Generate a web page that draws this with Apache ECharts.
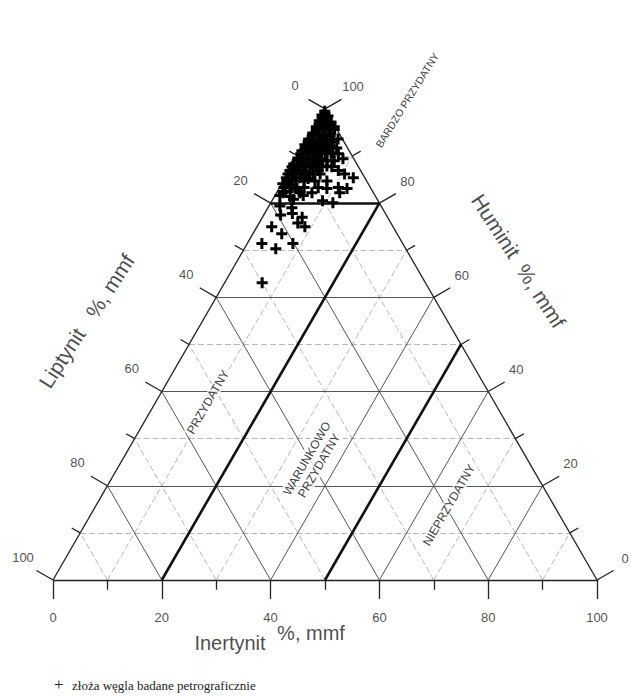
<!DOCTYPE html>
<html><head><meta charset="utf-8">
<script src="https://cdn.jsdelivr.net/npm/echarts@6/dist/echarts.min.js"></script>
<style>html,body{margin:0;padding:0;background:#fff;}#c{width:631px;height:698px;}</style>
</head><body><div id="c"></div>
<script>
// ---- data (percent, mmf) ----
const tickValues = [0,10,20,30,40,50,60,70,80,90,100];
const tickLabels = ['0','20','40','60','80','100'];
const huminit   = [99.5,99.0,98.7,98.5,97.5,97.5,97.2,96.2,96.2,95.9,96.2,94.9,94.9,94.7,94.9,93.6,93.6,93.4,93.6,93.6,92.4,92.2,92.4,92.4,92.2,91.1,90.9,91.1,90.9,91.1,90.7,89.6,89.8,89.6,89.8,89.4,89.4,88.3,88.1,88.3,88.1,88.3,87.9,86.9,86.7,86.9,86.4,86.9,86.9,85.4,85.2,85.4,85.2,84.7,85.4,84.1,83.9,83.1,82.2,83.1,83.1,81.6,81.4,81.6,80.5,80.1,79.4,79.0,77.5,77.8,77.0,75.8,75.0,75.0,73.5,71.4,70.3,71.4,63.1,82.5,82.5,80.8,
  98.1,98.1, 96.8,96.8,96.8, 95.6,95.6,95.6,95.6, 94.3,94.3,94.3,94.3, 93.0,93.0,93.0,93.0,93.0, 91.7,91.7,91.7,91.7,91.7,91.7,
  90.5,90.5,90.5,90.5,90.5,90.5,90.5, 89.0,89.0,89.0,89.0,89.0,89.0,89.0, 87.7,87.7,87.7,87.7,87.7,87.7,87.7,
  86.2,86.2,86.2,86.2,86.2,86.2,86.2, 84.7,84.7,84.7,84.7, 83.3,83.3,83.3,83.3,83.3, 82.2,82.2,82.2];
const inertynit = [0.2,0.5,0.1,1.3,0.2,1.3,2.5,0.3,1.4,2.6,3.6,0.3,1.4,2.6,3.6,0.2,1.3,2.5,3.5,5.6,0.1,1.3,2.3,3.4,4.8,0.2,1.4,2.4,3.6,4.6,6.1,0.2,1.2,2.4,3.4,4.7,8.6,0.1,1.3,2.3,3.7,4.7,6.4,0.1,1.3,2.5,4.0,5.3,9.0,0.2,1.3,2.7,4.3,8.0,12.5,0.2,1.6,3.3,6.5,8.8,12.5,0.9,2.9,5.2,9.3,11.4,2.0,4.4,3.1,5.1,7.3,7.1,8.8,2.7,5.3,2.7,5.8,8.4,6.9,1.5,4.0,3.8,
  0.4,1.3, 0.5,1.6,2.7, 0.6,1.7,2.8,3.9, 0.5,1.6,2.7,3.8, 0.4,1.5,2.6,3.7,5.0, 0.5,1.6,2.7,3.8,5.1,6.3,
  0.3,1.5,2.6,3.7,4.8,5.9,7.2, 0.4,1.5,2.6,3.7,4.8,5.9,7.2, 0.1,1.2,2.3,3.4,4.5,5.6,7.4,
  0.1,1.2,2.3,3.4,4.7,6.0,10.5, 0.8,2.3,3.8,5.8, 0.8,2.3,4.5,7.1,10.8, 1.2,4.3,11.6];
const liptynit  = [0.3,0.5,1.2,0.2,2.3,1.2,0.3,3.5,2.4,1.5,0.2,4.8,3.7,2.7,1.5,6.2,5.1,4.1,2.9,0.8,7.5,6.5,5.3,4.2,3.0,8.7,7.7,6.5,5.5,4.3,3.2,10.2,9.0,8.0,6.8,5.9,2.0,11.6,10.6,9.4,8.2,7.0,5.7,13.0,12.0,10.6,9.6,7.8,4.1,14.4,13.5,11.9,10.5,7.3,2.1,15.7,14.5,13.6,11.3,8.1,4.4,17.5,15.7,13.2,10.2,8.5,18.6,16.6,19.4,17.1,15.7,17.1,16.2,22.3,21.2,25.9,23.9,20.2,30.0,16.0,13.5,15.4,
  1.5,0.6, 2.7,1.6,0.5, 3.8,2.7,1.6,0.5, 5.2,4.1,3.0,1.9, 6.6,5.5,4.4,3.3,2.0, 7.8,6.7,5.6,4.5,3.2,2.0,
  9.2,8.0,6.9,5.8,4.7,3.6,2.3, 10.6,9.5,8.4,7.3,6.2,5.1,3.8, 12.2,11.1,10.0,8.9,7.8,6.7,4.9,
  13.7,12.6,11.5,10.4,9.1,7.8,3.3, 14.5,13.0,11.5,9.5, 15.9,14.4,12.2,9.6,5.9, 16.6,13.5,6.2];
// class boundaries
const boundaryHuminit = 80;
const boundaryInertynit = [20, 50];
const regionNames = ['BARDZO PRZYDATNY','PRZYDATNY','WARUNKOWO\nPRZYDATNY','NIEPRZYDATNY'];
const axisNames = {bottom:'Inertynit', left:'Liptynit', right:'Huminit', unit:'%, mmf'};
const legendText = 'złoża węgla badane petrograficznie';

// ---- ternary -> cartesian (Huminit top, Inertynit bottom-right, Liptynit bottom-left) ----
const S3 = Math.sqrt(3)/2;
function tern(h, i){ return [i + h/2, h*S3]; }

const PX = 5.44; // px per unit
const chart = echarts.init(document.getElementById('c'), null, {renderer:'svg'});

const minorGrid = [], majorGrid = [];
for (let k = 10; k < 100; k += 10){
  const segs = [
    [tern(k,0), tern(k,100-k)],
    [tern(0,k), tern(100-k,k)],
    [tern(0,100-k), tern(100-k,0)]
  ];
  segs.forEach(s => (k % 20 === 0 ? majorGrid : minorGrid).push({coords:s}));
}
const outline = [[tern(0,0),tern(0,100)],[tern(0,100),tern(100,0)],[tern(100,0),tern(0,0)]].map(c=>({coords:c}));
const thick = [
  {coords:[tern(boundaryHuminit,0), tern(boundaryHuminit,100-boundaryHuminit)]},
  ...boundaryInertynit.map(v=>({coords:[tern(0,v), tern(100-v,v)]}))
];
const dirB=[0,-1], dirL=[-S3,0.5], dirR=[S3,0.5];
const tickSegs = [];
function addTick(p, d, v){
  const len = (v % 20 === 0) ? 3.5 : 1.8;
  tickSegs.push({coords:[p,[p[0]+d[0]*len, p[1]+d[1]*len]]});
}
tickValues.forEach(v=>{
  addTick(tern(0,v), dirB, v);
  addTick(tern(100-v,0), dirL, v);
  addTick(tern(v,100-v), dirR, v);
});
const labelData = [];
tickLabels.forEach(t=>{
  const v = +t;
  let p = tern(0,v); labelData.push({value:[p[0], p[1]-37/PX], label:{formatter:t}});
  p = tern(100-v,0); labelData.push({value:[p[0]-30/PX, p[1]+23/PX], label:{formatter:t}});
  p = tern(v,100-v); labelData.push({value:[p[0]+28/PX, p[1]+22/PX], label:{formatter:t}});
});
function pxToData(x,y){ return [(x-53)/PX, (580-y)/PX]; }
const regionLabel = {backgroundColor:'#fff', padding:[0,2], color:'#000'};
const textItems = [
  {value:pxToData(230,643), label:{formatter:axisNames.bottom, fontSize:20, rotate:0}},
  {value:pxToData(311,633), label:{formatter:axisNames.unit, fontSize:20, rotate:0}},
  {value:pxToData(62,358), label:{formatter:axisNames.left, fontSize:21, rotate:57}},
  {value:pxToData(110,286), label:{formatter:axisNames.unit, fontSize:21, rotate:57}},
  {value:pxToData(496,226), label:{formatter:axisNames.right, fontSize:21, rotate:-57}},
  {value:pxToData(541,296), label:{formatter:axisNames.unit, fontSize:21, rotate:-57}},
  {value:pxToData(407,100), label:{formatter:regionNames[0], fontSize:10.5, rotate:58, color:'#000'}},
  {value:pxToData(208,402), label:Object.assign({formatter:regionNames[1], fontSize:12, rotate:60}, regionLabel)},
  {value:pxToData(313,462), label:Object.assign({formatter:regionNames[2], fontSize:12, rotate:60, lineHeight:14}, regionLabel)},
  {value:pxToData(449,505), label:Object.assign({formatter:regionNames[3], fontSize:12, rotate:60}, regionLabel)}
];
const points = huminit.map((h,idx)=>tern(h, inertynit[idx]));

const plus = 'path://M4,0H7V4H11V7H7V11H4V7H0V4H4Z';
const base = {silent:true, animation:false};
chart.setOption({
  animation:false,
  backgroundColor:'#fff',
  grid:{left:53-9*PX, width:115*PX, top:580-94*PX, height:110*PX},
  xAxis:{type:'value', min:-9, max:106, show:false},
  yAxis:{type:'value', min:-16, max:94, show:false},
  series:[
    Object.assign({type:'lines', coordinateSystem:'cartesian2d', data:minorGrid, z:1,
      lineStyle:{color:'#b0b0b0', width:0.9, type:[6,3], opacity:1}}, base),
    Object.assign({type:'lines', coordinateSystem:'cartesian2d', data:majorGrid, z:2,
      lineStyle:{color:'#555', width:1, opacity:1}}, base),
    Object.assign({type:'scatter', data:textItems, z:3, symbolSize:1, itemStyle:{color:'rgba(0,0,0,0)'},
      label:{show:true, position:'inside', color:'#1a1a1a', fontFamily:'Liberation Sans', align:'center', verticalAlign:'middle'}}, base),
    Object.assign({type:'lines', coordinateSystem:'cartesian2d', data:outline.concat(tickSegs), z:4,
      lineStyle:{color:'#222', width:1.3, opacity:1}}, base),
    Object.assign({type:'lines', coordinateSystem:'cartesian2d', data:thick, z:5,
      lineStyle:{color:'#111', width:2.6, opacity:1}}, base),
    Object.assign({type:'scatter', data:points, z:6, symbol:plus, symbolSize:11,
      itemStyle:{color:'#000', opacity:1}}, base),
    Object.assign({type:'scatter', data:labelData, z:7, symbolSize:1, itemStyle:{color:'rgba(0,0,0,0)'},
      label:{show:true, position:'inside', color:'#222', fontSize:13, fontFamily:'Liberation Sans'}}, base)
  ],
  graphic:[
    {type:'text', left:54, top:676, style:{text:'+', font:'17px "Liberation Serif"', fill:'#222'}},
    {type:'text', left:72, top:679, style:{text:legendText, font:'13px "Liberation Serif"', fill:'#222'}}
  ]
});
</script></body></html>
